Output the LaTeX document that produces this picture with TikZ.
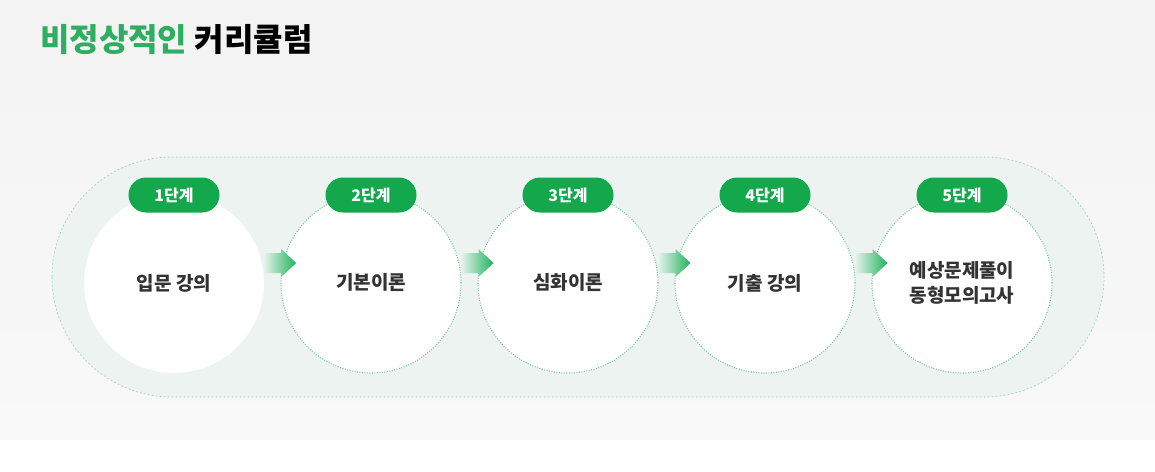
\documentclass[tikz,border=0pt]{standalone}
\usepackage{fontspec}
\setmainfont{Noto Sans CJK KR}

\definecolor{titlegreen}{HTML}{2DAE60}
\definecolor{badgegreen}{HTML}{12A84B}
\definecolor{arrowgreen}{HTML}{1FB35D}
\definecolor{arrowpale}{HTML}{E4F2EA}
\definecolor{trackfill}{HTML}{EDF3F0}
\definecolor{trackline}{HTML}{A8D5BF}
\definecolor{dotgreen}{HTML}{7CC7A1}
\definecolor{textgray}{HTML}{333333}
\definecolor{bgtop}{HTML}{F3F3F3}
\definecolor{bgbottom}{HTML}{F9F9F9}

\begin{document}
\begin{tikzpicture}[x=1pt,y=-1pt,
  stage/.style={circle, fill=white, minimum size=180pt, inner sep=0pt, align=center,
    text=textgray, font=\fontsize{19}{25}\selectfont\bfseries},
  stageline/.style={draw=dotgreen, dash pattern=on 1pt off 1.5pt, line width=1.1pt},
  badge/.style={rectangle, rounded corners=17.5pt, fill=badgegreen, text=white,
    minimum width=91pt, minimum height=35pt, inner sep=0pt,
    font=\fontsize{16}{18}\selectfont\bfseries},
  flow/.style={left color=arrowpale, right color=arrowgreen}]
    \useasboundingbox (0,0) rectangle (1155,471);
    % background
    \shade[top color=bgtop, bottom color=bgbottom] (0,0) rectangle (1155,440);
    \fill[white] (0,440) rectangle (1155,471);
    % title
    \node[anchor=west, inner sep=0pt, font=\fontsize{32}{36}\selectfont\bfseries] (title) at (40,40)
      {\textcolor{titlegreen}{비정상적인} 커리큘럼};
    % track
    \draw[fill=trackfill, draw=trackline, dash pattern=on 2pt off 2pt, line width=0.7pt,
      rounded corners=120pt] (52,157) rectangle (1104,397);
    % circles
    \node[stage] (s1) at (174,283) {입문 강의};
    \node[stage, stageline] (s2) at (371,283) {기본이론};
    \node[stage, stageline] (s3) at (568,283) {심화이론};
    \node[stage, stageline] (s4) at (765,283) {기출 강의};
    \node[stage, stageline] (s5) at (962,283) {예상문제풀이\\동형모의고사};
    % arrows
    \shade[flow] ([yshift=10pt]s1.east) -- ++(17,0) -- ++(0,4) -- ++(15,-14) -- ++(-15,-14) -- ++(0,4) -- ++(-17,0) -- cycle;
    \shade[flow] ([yshift=10pt]s2.east) -- ++(17,0) -- ++(0,4) -- ++(15,-14) -- ++(-15,-14) -- ++(0,4) -- ++(-17,0) -- cycle;
    \shade[flow] ([yshift=10pt]s3.east) -- ++(17,0) -- ++(0,4) -- ++(15,-14) -- ++(-15,-14) -- ++(0,4) -- ++(-17,0) -- cycle;
    \shade[flow] ([yshift=10pt]s4.east) -- ++(17,0) -- ++(0,4) -- ++(15,-14) -- ++(-15,-14) -- ++(0,4) -- ++(-17,0) -- cycle;
    % badges
    \node[badge] (b1) at (174,195) {1단계};
    \node[badge] (b2) at (371,195) {2단계};
    \node[badge] (b3) at (568,195) {3단계};
    \node[badge] (b4) at (765,195) {4단계};
    \node[badge] (b5) at (962,195) {5단계};
\end{tikzpicture}
\end{document}
